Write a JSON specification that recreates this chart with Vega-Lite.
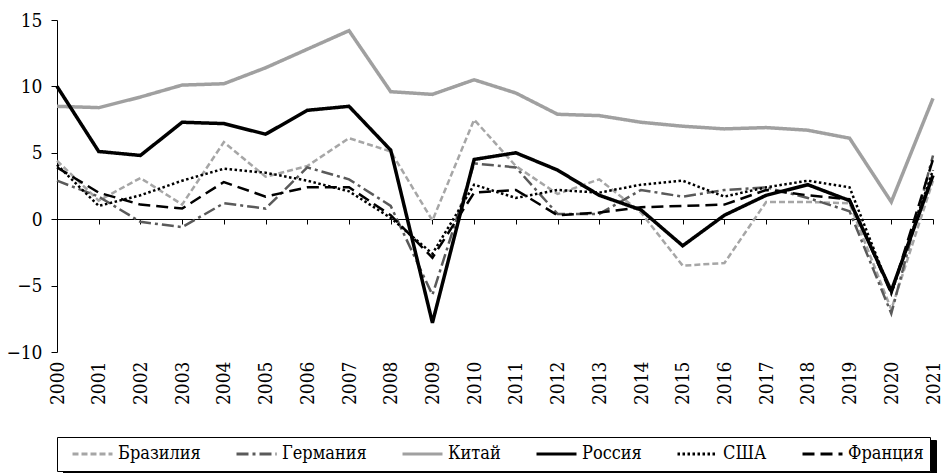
{
  "$schema": "https://vega.github.io/schema/vega-lite/v6.json",
  "width": 876,
  "height": 332,
  "autosize": "none",
  "padding": {"left": 57, "top": 20, "right": 10, "bottom": 121},
  "config": {"view": {"stroke": null}, "font": "DejaVu Serif Condensed"},
  "data": {"values": [
    {"year": 2000, "country": "Бразилия", "value": 4.4},
    {"year": 2001, "country": "Бразилия", "value": 1.4},
    {"year": 2002, "country": "Бразилия", "value": 3.1},
    {"year": 2003, "country": "Бразилия", "value": 1.1},
    {"year": 2004, "country": "Бразилия", "value": 5.8},
    {"year": 2005, "country": "Бразилия", "value": 3.2},
    {"year": 2006, "country": "Бразилия", "value": 4.0},
    {"year": 2007, "country": "Бразилия", "value": 6.1},
    {"year": 2008, "country": "Бразилия", "value": 5.1},
    {"year": 2009, "country": "Бразилия", "value": -0.1},
    {"year": 2010, "country": "Бразилия", "value": 7.5},
    {"year": 2011, "country": "Бразилия", "value": 4.0},
    {"year": 2012, "country": "Бразилия", "value": 1.9},
    {"year": 2013, "country": "Бразилия", "value": 3.0},
    {"year": 2014, "country": "Бразилия", "value": 0.5},
    {"year": 2015, "country": "Бразилия", "value": -3.5},
    {"year": 2016, "country": "Бразилия", "value": -3.3},
    {"year": 2017, "country": "Бразилия", "value": 1.3},
    {"year": 2018, "country": "Бразилия", "value": 1.3},
    {"year": 2019, "country": "Бразилия", "value": 1.2},
    {"year": 2020, "country": "Бразилия", "value": -6.8},
    {"year": 2021, "country": "Бразилия", "value": 2.9},
    {"year": 2000, "country": "Германия", "value": 2.9},
    {"year": 2001, "country": "Германия", "value": 1.7},
    {"year": 2002, "country": "Германия", "value": -0.2},
    {"year": 2003, "country": "Германия", "value": -0.6},
    {"year": 2004, "country": "Германия", "value": 1.2},
    {"year": 2005, "country": "Германия", "value": 0.8},
    {"year": 2006, "country": "Германия", "value": 3.9},
    {"year": 2007, "country": "Германия", "value": 3.0},
    {"year": 2008, "country": "Германия", "value": 1.0},
    {"year": 2009, "country": "Германия", "value": -5.7},
    {"year": 2010, "country": "Германия", "value": 4.2},
    {"year": 2011, "country": "Германия", "value": 3.9},
    {"year": 2012, "country": "Германия", "value": 0.4},
    {"year": 2013, "country": "Германия", "value": 0.4},
    {"year": 2014, "country": "Германия", "value": 2.2},
    {"year": 2015, "country": "Германия", "value": 1.7},
    {"year": 2016, "country": "Германия", "value": 2.2},
    {"year": 2017, "country": "Германия", "value": 2.4},
    {"year": 2018, "country": "Германия", "value": 1.6},
    {"year": 2019, "country": "Германия", "value": 0.6},
    {"year": 2020, "country": "Германия", "value": -7.1},
    {"year": 2021, "country": "Германия", "value": 4.8},
    {"year": 2000, "country": "Китай", "value": 8.5},
    {"year": 2001, "country": "Китай", "value": 8.4},
    {"year": 2002, "country": "Китай", "value": 9.2},
    {"year": 2003, "country": "Китай", "value": 10.1},
    {"year": 2004, "country": "Китай", "value": 10.2},
    {"year": 2005, "country": "Китай", "value": 11.4},
    {"year": 2006, "country": "Китай", "value": 12.8},
    {"year": 2007, "country": "Китай", "value": 14.2},
    {"year": 2008, "country": "Китай", "value": 9.6},
    {"year": 2009, "country": "Китай", "value": 9.4},
    {"year": 2010, "country": "Китай", "value": 10.5},
    {"year": 2011, "country": "Китай", "value": 9.5},
    {"year": 2012, "country": "Китай", "value": 7.9},
    {"year": 2013, "country": "Китай", "value": 7.8},
    {"year": 2014, "country": "Китай", "value": 7.3},
    {"year": 2015, "country": "Китай", "value": 7.0},
    {"year": 2016, "country": "Китай", "value": 6.8},
    {"year": 2017, "country": "Китай", "value": 6.9},
    {"year": 2018, "country": "Китай", "value": 6.7},
    {"year": 2019, "country": "Китай", "value": 6.1},
    {"year": 2020, "country": "Китай", "value": 1.3},
    {"year": 2021, "country": "Китай", "value": 9.1},
    {"year": 2000, "country": "Россия", "value": 10.0},
    {"year": 2001, "country": "Россия", "value": 5.1},
    {"year": 2002, "country": "Россия", "value": 4.8},
    {"year": 2003, "country": "Россия", "value": 7.3},
    {"year": 2004, "country": "Россия", "value": 7.2},
    {"year": 2005, "country": "Россия", "value": 6.4},
    {"year": 2006, "country": "Россия", "value": 8.2},
    {"year": 2007, "country": "Россия", "value": 8.5},
    {"year": 2008, "country": "Россия", "value": 5.2},
    {"year": 2009, "country": "Россия", "value": -7.8},
    {"year": 2010, "country": "Россия", "value": 4.5},
    {"year": 2011, "country": "Россия", "value": 5.0},
    {"year": 2012, "country": "Россия", "value": 3.7},
    {"year": 2013, "country": "Россия", "value": 1.8},
    {"year": 2014, "country": "Россия", "value": 0.7},
    {"year": 2015, "country": "Россия", "value": -2.0},
    {"year": 2016, "country": "Россия", "value": 0.3},
    {"year": 2017, "country": "Россия", "value": 1.8},
    {"year": 2018, "country": "Россия", "value": 2.6},
    {"year": 2019, "country": "Россия", "value": 1.4},
    {"year": 2020, "country": "Россия", "value": -5.4},
    {"year": 2021, "country": "Россия", "value": 3.3},
    {"year": 2000, "country": "США", "value": 4.1},
    {"year": 2001, "country": "США", "value": 1.0},
    {"year": 2002, "country": "США", "value": 1.8},
    {"year": 2003, "country": "США", "value": 2.9},
    {"year": 2004, "country": "США", "value": 3.8},
    {"year": 2005, "country": "США", "value": 3.5},
    {"year": 2006, "country": "США", "value": 2.9},
    {"year": 2007, "country": "США", "value": 2.1},
    {"year": 2008, "country": "США", "value": 0.1},
    {"year": 2009, "country": "США", "value": -2.6},
    {"year": 2010, "country": "США", "value": 2.6},
    {"year": 2011, "country": "США", "value": 1.6},
    {"year": 2012, "country": "США", "value": 2.2},
    {"year": 2013, "country": "США", "value": 2.0},
    {"year": 2014, "country": "США", "value": 2.6},
    {"year": 2015, "country": "США", "value": 2.9},
    {"year": 2016, "country": "США", "value": 1.7},
    {"year": 2017, "country": "США", "value": 2.4},
    {"year": 2018, "country": "США", "value": 2.9},
    {"year": 2019, "country": "США", "value": 2.4},
    {"year": 2020, "country": "США", "value": -5.6},
    {"year": 2021, "country": "США", "value": 3.7},
    {"year": 2000, "country": "Франция", "value": 3.9},
    {"year": 2001, "country": "Франция", "value": 2.0},
    {"year": 2002, "country": "Франция", "value": 1.1},
    {"year": 2003, "country": "Франция", "value": 0.8},
    {"year": 2004, "country": "Франция", "value": 2.8},
    {"year": 2005, "country": "Франция", "value": 1.7},
    {"year": 2006, "country": "Франция", "value": 2.4},
    {"year": 2007, "country": "Франция", "value": 2.4},
    {"year": 2008, "country": "Франция", "value": 0.3},
    {"year": 2009, "country": "Франция", "value": -2.9},
    {"year": 2010, "country": "Франция", "value": 2.0},
    {"year": 2011, "country": "Франция", "value": 2.2},
    {"year": 2012, "country": "Франция", "value": 0.3},
    {"year": 2013, "country": "Франция", "value": 0.5},
    {"year": 2014, "country": "Франция", "value": 0.9},
    {"year": 2015, "country": "Франция", "value": 1.0},
    {"year": 2016, "country": "Франция", "value": 1.1},
    {"year": 2017, "country": "Франция", "value": 2.2},
    {"year": 2018, "country": "Франция", "value": 1.8},
    {"year": 2019, "country": "Франция", "value": 1.5},
    {"year": 2020, "country": "Франция", "value": -5.6},
    {"year": 2021, "country": "Франция", "value": 4.5}
  ]},
  "encoding": {
    "x": {
      "field": "year", "type": "ordinal",
      "scale": {"type": "point", "padding": 0},
      "axis": {"offset": -133, "labelAngle": -90, "labelPadding": 137, "tickSize": 5, "domainColor": "black", "tickColor": "black", "labelColor": "black", "labelFontSize": 19, "labelFont": "DejaVu Serif Condensed", "title": null, "grid": false}
    },
    "y": {
      "field": "value", "type": "quantitative",
      "scale": {"domain": [-10, 15], "nice": false, "zero": false},
      "axis": {"values": [-10, -5, 0, 5, 10, 15], "tickSize": 6, "labelPadding": 9, "domainColor": "black", "tickColor": "black", "labelColor": "black", "labelFontSize": 19, "labelFont": "DejaVu Serif Condensed", "title": null, "grid": false}
    }
  },
  "layer": [
    {
      "mark": {"type": "point", "opacity": 0},
      "encoding": {
        "fill": {
          "field": "country", "type": "nominal",
          "scale": {"domain": ["Франция", "США", "Россия", "Китай", "Германия", "Бразилия"], "range": ["#000000", "#000000", "#000000", "#000000", "#000000", "#000000"]},
          "legend": {"orient": "none", "legendX": 6, "legendY": 420, "direction": "horizontal", "title": null, "strokeColor": "black", "fillColor": "black", "padding": 6, "symbolType": "stroke", "symbolSize": 1600, "symbolStrokeWidth": 3, "symbolOffset": 8, "labelOffset": 4, "clipHeight": 22, "labelFontSize": 18, "labelFont": "DejaVu Serif Condensed", "labelColor": "black", "symbolStrokeColor": "black", "columnPadding": 26, "zindex": 0}
        }
      }
    },
    {
      "mark": {"type": "line", "strokeJoin": "miter"},
      "encoding": {
        "color": {
          "field": "country", "type": "nominal",
          "scale": {"domain": ["Бразилия", "Германия", "Китай", "Россия", "США", "Франция"], "range": ["#a6a6a6", "#5a5a5a", "#a0a0a0", "#000000", "#000000", "#000000"]},
          "legend": {"orient": "none", "legendX": 0, "legendY": 417, "direction": "horizontal", "title": null, "strokeColor": "black", "fillColor": "white", "padding": 6, "symbolType": "stroke", "symbolSize": 1600, "symbolStrokeWidth": 3, "symbolOffset": 8, "labelOffset": 4, "clipHeight": 22, "labelFontSize": 18, "labelFont": "DejaVu Serif Condensed", "labelColor": "black", "columnPadding": 26, "zindex": 1}
        },
        "strokeDash": {
          "field": "country", "type": "nominal",
          "scale": {"domain": ["Бразилия", "Германия", "Китай", "Россия", "США", "Франция"], "range": [[6, 3], [12, 4, 3, 4], [1, 0], [1, 0], [2.5, 2.5], [12, 6]]},
          "legend": {"orient": "none", "legendX": 0, "legendY": 417, "direction": "horizontal", "title": null, "strokeColor": "black", "fillColor": "white", "padding": 6, "symbolType": "stroke", "symbolSize": 1600, "symbolStrokeWidth": 3, "symbolOffset": 8, "labelOffset": 4, "clipHeight": 22, "labelFontSize": 18, "labelFont": "DejaVu Serif Condensed", "labelColor": "black", "columnPadding": 26, "zindex": 1}
        },
        "strokeWidth": {"condition": {"test": "datum.country === 'Китай' || datum.country === 'Россия'", "value": 3.5}, "value": 2.5}
      }
    }
  ]
}
